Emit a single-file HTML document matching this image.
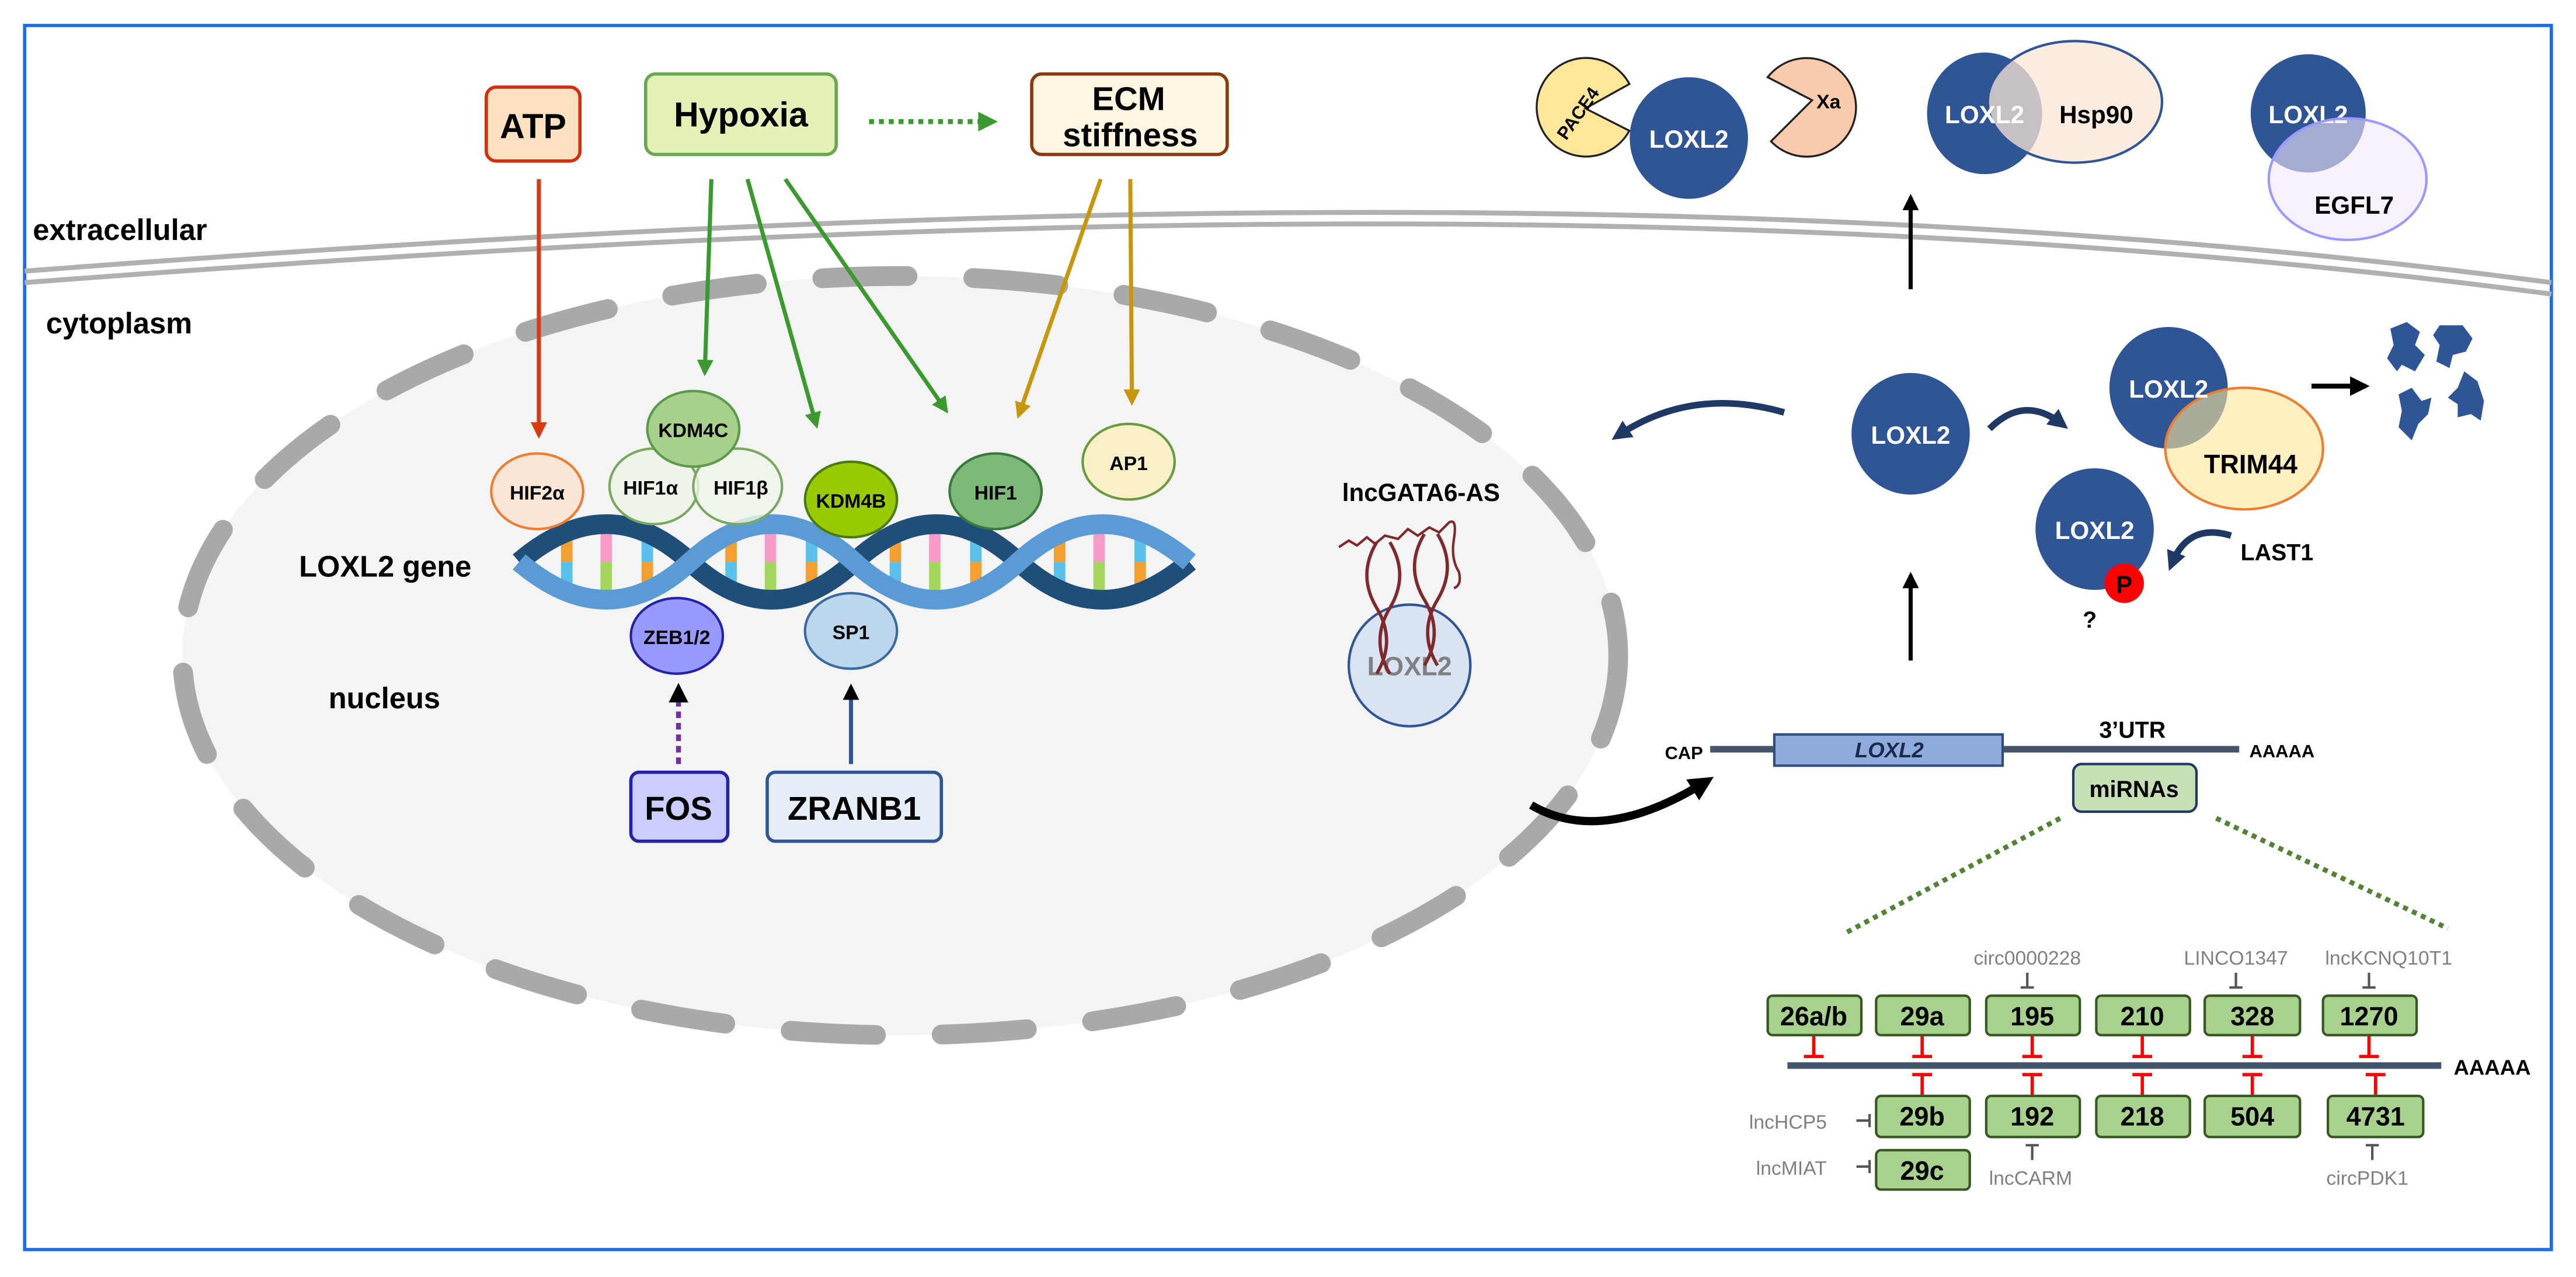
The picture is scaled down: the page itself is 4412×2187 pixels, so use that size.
<!DOCTYPE html>
<html><head><meta charset="utf-8"><style>
html,body{margin:0;padding:0;background:#fff}
svg{display:block}
text{font-family:"Liberation Sans",sans-serif}
</style></head><body>
<svg width="4412" height="2187" viewBox="0 0 1568 777.2" preserveAspectRatio="none" xmlns="http://www.w3.org/2000/svg">
<defs>
<marker id="ar" viewBox="0 0 10 10" refX="8" refY="5" markerWidth="4" markerHeight="4" orient="auto"><path d="M0,0L10,5L0,10z" fill="#d93a10"/></marker>
<marker id="ag" viewBox="0 0 10 10" refX="8" refY="5" markerWidth="4" markerHeight="4" orient="auto"><path d="M0,0L10,5L0,10z" fill="#3a9a30"/></marker>
<marker id="ay" viewBox="0 0 10 10" refX="8" refY="5" markerWidth="4" markerHeight="4" orient="auto"><path d="M0,0L10,5L0,10z" fill="#c8960a"/></marker>
<marker id="ak" viewBox="0 0 10 10" refX="8" refY="5" markerWidth="4" markerHeight="4" orient="auto"><path d="M0,0L10,5L0,10z" fill="#000"/></marker>
<marker id="ab" viewBox="0 0 10 10" refX="6" refY="5" markerWidth="3" markerHeight="3" orient="auto"><path d="M0,0L10,5L0,10z" fill="#1f3864"/></marker>
<marker id="ab2" viewBox="0 0 10 10" refX="6" refY="5" markerWidth="3" markerHeight="3" orient="auto"><path d="M0,0L10,5L0,10z" fill="#000"/></marker>
</defs>
<rect x="15" y="15.5" width="1538" height="745" fill="#fff" stroke="#1a6cf0" stroke-width="2"/>
<path d="M15,165 C500,128 1050,105 1553,172" fill="none" stroke="#b0b0b0" stroke-width="3"/>
<path d="M15,172 C500,135 1050,112 1553,179" fill="none" stroke="#b0b0b0" stroke-width="3"/>
<ellipse cx="548" cy="399" rx="437" ry="231" fill="#f4f4f4" stroke="#a9a9a9" stroke-width="12" stroke-dasharray="52 40" stroke-linecap="round"/>
<text x="20" y="146" font-size="18" font-weight="bold">extracellular</text>
<text x="28" y="203" font-size="18" font-weight="bold">cytoplasm</text>
<text x="182" y="351" font-size="18" font-weight="bold">LOXL2 gene</text>
<text x="200" y="431" font-size="18" font-weight="bold">nucleus</text>
<rect x="296" y="53" width="57" height="45" rx="6" fill="#fde0c0" stroke="#d03010" stroke-width="2"/>
<text x="324.5" y="84" font-size="21" font-weight="bold" text-anchor="middle">ATP</text>
<rect x="393" y="45" width="116" height="49" rx="6" fill="#e3f0b8" stroke="#6aa84f" stroke-width="2"/>
<text x="451" y="77" font-size="21" font-weight="bold" text-anchor="middle">Hypoxia</text>
<line x1="529" y1="74" x2="605" y2="74" stroke="#3a9a30" stroke-width="3" stroke-dasharray="3 3" marker-end="url(#ag)"/>
<rect x="628" y="45" width="119" height="49" rx="6" fill="#fff5e0" stroke="#8b3a10" stroke-width="2"/>
<text x="687" y="67" font-size="20" font-weight="bold" text-anchor="middle">ECM</text>
<text x="688" y="89" font-size="20" font-weight="bold" text-anchor="middle">stiffness</text>
<line x1="328" y1="109" x2="328" y2="265" stroke="#d93a10" stroke-width="2.5" marker-end="url(#ar)"/>
<line x1="433" y1="109" x2="429" y2="227" stroke="#3a9a30" stroke-width="2.5" marker-end="url(#ag)"/>
<line x1="455" y1="109" x2="497" y2="259" stroke="#3a9a30" stroke-width="2.5" marker-end="url(#ag)"/>
<line x1="478" y1="109" x2="576" y2="250" stroke="#3a9a30" stroke-width="2.5" marker-end="url(#ag)"/>
<line x1="670" y1="109" x2="620" y2="253" stroke="#c8960a" stroke-width="2.5" marker-end="url(#ay)"/>
<line x1="688" y1="109" x2="689" y2="245" stroke="#c8960a" stroke-width="2.5" marker-end="url(#ay)"/>
<g stroke-width="7">
<g id="rg">
<line x1="345" y1="322" x2="345" y2="342" stroke="#f4a030"/><line x1="345" y1="342" x2="345" y2="362" stroke="#5bc0eb"/>
<line x1="369" y1="316" x2="369" y2="342" stroke="#f79ac8"/><line x1="369" y1="342" x2="369" y2="368" stroke="#a4d65e"/>
<line x1="394" y1="322" x2="394" y2="342" stroke="#5bc0eb"/><line x1="394" y1="342" x2="394" y2="362" stroke="#f4a030"/>
</g>
<use href="#rg" x="100"/><use href="#rg" x="200"/><use href="#rg" x="300"/>
</g>
<path d="M316,342 Q370,296 420,342 Q470,388 520,342 Q570,296 620,342 Q670,388 724,342" fill="none" stroke="#1f4e79" stroke-width="12"/>
<path d="M316,342 Q370,388 420,342 Q470,296 520,342 Q570,388 620,342 Q670,296 724,342" fill="none" stroke="#5b9bd5" stroke-width="12"/>
<g font-weight="bold" text-anchor="middle" font-size="12">
<ellipse cx="327" cy="299" rx="28" ry="23" fill="#fbe5d6" stroke="#ed7d31" stroke-width="1.5"/><text x="327" y="304">HIF2α</text>
<ellipse cx="398" cy="296" rx="27" ry="23" fill="#eef5e8" stroke="#7aa860" stroke-width="1.5"/><text x="396" y="301">HIF1α</text>
<ellipse cx="449" cy="296" rx="27" ry="23" fill="#eef5e8" fill-opacity="0.8" stroke="#7aa860" stroke-width="1.5"/><text x="451" y="301">HIF1β</text>
<ellipse cx="422" cy="261" rx="28" ry="23" fill="#a8d08d" stroke="#5a9a48" stroke-width="1.5"/><text x="422" y="266">KDM4C</text>
<ellipse cx="518" cy="304" rx="28" ry="23" fill="#99cc00" stroke="#4a7a10" stroke-width="1.5"/><text x="518" y="309">KDM4B</text>
<ellipse cx="606" cy="299" rx="28" ry="23" fill="#7dba7a" stroke="#3a7a3a" stroke-width="1.5"/><text x="606" y="304">HIF1</text>
<ellipse cx="687" cy="281" rx="28" ry="23" fill="#faf0c8" stroke="#6a9a40" stroke-width="1.5"/><text x="687" y="286">AP1</text>
<ellipse cx="412" cy="387" rx="28" ry="23" fill="#9999ff" stroke="#2222aa" stroke-width="1.5"/><text x="412" y="392">ZEB1/2</text>
<ellipse cx="518" cy="384" rx="28" ry="23" fill="#bcd6ee" stroke="#3a6aa0" stroke-width="1.5"/><text x="518" y="389">SP1</text>
</g>
<line x1="413" y1="465" x2="413" y2="418" stroke="#7030a0" stroke-width="3" stroke-dasharray="4 3" marker-end="url(#ak)"/>
<line x1="518" y1="465" x2="518" y2="418" stroke="#2f5597" stroke-width="2.5" marker-end="url(#ak)"/>
<rect x="384" y="470" width="59" height="42" rx="5" fill="#ccccff" stroke="#2222aa" stroke-width="2"/>
<text x="413" y="499" font-size="20" font-weight="bold" text-anchor="middle">FOS</text>
<rect x="467" y="470" width="106" height="42" rx="5" fill="#e6eef8" stroke="#2f5597" stroke-width="2"/>
<text x="520" y="499" font-size="20" font-weight="bold" text-anchor="middle">ZRANB1</text>
<text x="865" y="305" font-size="15" font-weight="bold" text-anchor="middle">lncGATA6-AS</text>
<ellipse cx="858" cy="405" rx="37" ry="37" fill="#dae3f3" stroke="#2f5597" stroke-width="1.5"/>
<text x="858" y="411" font-size="16" font-weight="bold" fill="#808080" text-anchor="middle">LOXL2</text>
<path d="M815,333 l6,-4 l5,3 l6,-5 l5,4 l6,-5 l8,2 l6,-6 l6,4 l7,-5 l6,3 l6,-6 q5,-3 3,10 q-2,12 3,20 q2,8 -3,10" fill="none" stroke="#7f2a2a" stroke-width="1.5"/>
<path d="M838,330 q-12,20 0,40 q12,20 0,40 M846,330 q12,20 0,40 q-12,20 0,40 M867,325 q-12,20 0,40 q12,20 0,40 M875,325 q12,20 0,40 q-12,20 0,40" fill="none" stroke="#7f2a2a" stroke-width="2"/>
<path d="M965,66 L994,56 A30,30 0 1 0 989,84 Z" fill="#ffe699" stroke="#222" stroke-width="1.2" transform="rotate(-10 965 66)"/>
<text x="962" y="72" font-size="11" font-weight="bold" text-anchor="middle" transform="rotate(-55 962 70)">PACE4</text>
<ellipse cx="1028" cy="84" rx="36" ry="37" fill="#2f5597"/>
<text x="1028" y="90" font-size="15" font-weight="bold" fill="#fff" text-anchor="middle">LOXL2</text>
<path d="M1103,61 L1076,47 A30,30 0 1 1 1078,86 Z" fill="#f8cbad" stroke="#222" stroke-width="1.2"/>
<text x="1113" y="66" font-size="12" font-weight="bold" text-anchor="middle">Xa</text>
<ellipse cx="1208" cy="69" rx="35" ry="37" fill="#2f5597"/>
<ellipse cx="1263" cy="62" rx="53" ry="37" fill="#fbe5d6" fill-opacity="0.75" stroke="#2f5597" stroke-width="1.5"/>
<text x="1208" y="75" font-size="15" font-weight="bold" fill="#fff" text-anchor="middle">LOXL2</text>
<text x="1276" y="75" font-size="15" font-weight="bold" text-anchor="middle">Hsp90</text>
<ellipse cx="1405" cy="69" rx="35" ry="36" fill="#2f5597"/>
<text x="1405" y="75" font-size="15" font-weight="bold" fill="#fff" text-anchor="middle">LOXL2</text>
<ellipse cx="1429" cy="109" rx="48" ry="37" fill="#f5e6fb" fill-opacity="0.6" stroke="#9999ff" stroke-width="1.5"/>
<text x="1433" y="130" font-size="15" font-weight="bold" text-anchor="middle">EGFL7</text>
<line x1="1163" y1="176" x2="1163" y2="120" stroke="#000" stroke-width="2.5" marker-end="url(#ak)"/>
<ellipse cx="1163" cy="264" rx="36" ry="37" fill="#2f5597"/>
<text x="1163" y="270" font-size="15" font-weight="bold" fill="#fff" text-anchor="middle">LOXL2</text>
<path d="M1086,251 Q1030,235 985,265" fill="none" stroke="#1f3864" stroke-width="4" marker-end="url(#ab)"/>
<path d="M1211,261 Q1232,240 1255,258" fill="none" stroke="#1f3864" stroke-width="4" marker-end="url(#ab)"/>
<ellipse cx="1320" cy="236" rx="36" ry="37" fill="#2f5597"/>
<ellipse cx="1366" cy="273" rx="48" ry="37" fill="#ffe699" fill-opacity="0.6" stroke="#ed7d31" stroke-width="1.5"/>
<text x="1320" y="242" font-size="15" font-weight="bold" fill="#fff" text-anchor="middle">LOXL2</text>
<text x="1370" y="288" font-size="16" font-weight="bold" text-anchor="middle">TRIM44</text>
<line x1="1407" y1="235" x2="1440" y2="235" stroke="#000" stroke-width="3" marker-end="url(#ak)"/>
<g fill="#2f5597">
<path d="M1455,200 l10,-4 l8,6 l-3,8 l6,6 l-6,10 l-8,-4 l-3,4 l-6,-8 l4,-8z"/>
<path d="M1485,198 l14,0 l6,8 l-4,8 l-8,2 l-2,8 l-8,-4 l2,-10 l-4,-6z"/>
<path d="M1460,240 l8,-4 l6,8 l6,-2 l-2,10 l-6,6 l-4,10 l-8,-8 l2,-10z"/>
<path d="M1500,226 l8,6 l4,12 l-2,12 l-6,-4 l-8,2 l0,-8 l-6,-4 l6,-6z"/>
</g>
<ellipse cx="1275" cy="322" rx="36" ry="37" fill="#2f5597"/>
<text x="1275" y="328" font-size="15" font-weight="bold" fill="#fff" text-anchor="middle">LOXL2</text>
<circle cx="1293" cy="355" r="12" fill="#ff0000"/>
<text x="1293" y="361" font-size="15" font-weight="bold" text-anchor="middle">P</text>
<text x="1272" y="382" font-size="14" font-weight="bold" text-anchor="middle">?</text>
<path d="M1358,326 Q1332,318 1322,343" fill="none" stroke="#1f3864" stroke-width="4" marker-end="url(#ab)"/>
<text x="1386" y="341" font-size="14" font-weight="bold" text-anchor="middle">LAST1</text>
<line x1="1163" y1="402" x2="1163" y2="350" stroke="#000" stroke-width="2.5" marker-end="url(#ak)"/>
<path d="M932,490 Q975,515 1038,476" fill="none" stroke="#000" stroke-width="5" marker-end="url(#ab2)"/>
<text x="1025" y="462" font-size="11" font-weight="bold" text-anchor="middle">CAP</text>
<line x1="1041" y1="456" x2="1363" y2="456" stroke="#44546a" stroke-width="4"/>
<rect x="1080" y="447" width="139" height="19" fill="#8faadc" stroke="#2f4f7a" stroke-width="1.5"/>
<text x="1150" y="461" font-size="13" font-weight="bold" font-style="italic" fill="#1a2a4a" text-anchor="middle">LOXL2</text>
<text x="1298" y="449" font-size="14" font-weight="bold" text-anchor="middle">3’UTR</text>
<text x="1389" y="461" font-size="11" font-weight="bold" text-anchor="middle">AAAAA</text>
<rect x="1262" y="465" width="75" height="29" rx="5" fill="#c5e0b4" stroke="#1f3864" stroke-width="1.5"/>
<text x="1299" y="485" font-size="14" font-weight="bold" text-anchor="middle">miRNAs</text>
<line x1="1254" y1="498" x2="1123" y2="568" stroke="#548235" stroke-width="3" stroke-dasharray="3 3"/>
<line x1="1349" y1="498" x2="1490" y2="565" stroke="#548235" stroke-width="3" stroke-dasharray="3 3"/>
<line x1="1088" y1="648.5" x2="1486" y2="648.5" stroke="#44546a" stroke-width="4"/>
<text x="1517" y="654" font-size="13" font-weight="bold" text-anchor="middle">AAAAA</text>
<g stroke="#ff0000" stroke-width="2">
<path d="M1104,630v13m-6,0h12"/><path d="M1170,630v13m-6,0h12"/><path d="M1237,630v13m-6,0h12"/><path d="M1304,630v13m-6,0h12"/><path d="M1371,630v13m-6,0h12"/><path d="M1442,630v13m-6,0h12"/>
<path d="M1170,667v-13m-6,0h12"/><path d="M1237,667v-13m-6,0h12"/><path d="M1304,667v-13m-6,0h12"/><path d="M1371,667v-13m-6,0h12"/><path d="M1446,667v-13m-6,0h12"/>
</g>
<g fill="#a9d18e" stroke="#385723" stroke-width="1.5">
<rect x="1076" y="606" width="57" height="24" rx="3"/><rect x="1142" y="606" width="57" height="24" rx="3"/><rect x="1209" y="606" width="57" height="24" rx="3"/><rect x="1276" y="606" width="57" height="24" rx="3"/><rect x="1342" y="606" width="58" height="24" rx="3"/><rect x="1414" y="606" width="57" height="24" rx="3"/>
<rect x="1142" y="667" width="57" height="25" rx="3"/><rect x="1209" y="667" width="57" height="25" rx="3"/><rect x="1276" y="667" width="57" height="25" rx="3"/><rect x="1342" y="667" width="58" height="25" rx="3"/><rect x="1417" y="667" width="58" height="25" rx="3"/>
<rect x="1142" y="700" width="57" height="24" rx="3"/>
</g>
<g font-size="16" font-weight="bold" text-anchor="middle">
<text x="1104" y="624">26a/b</text><text x="1170" y="624">29a</text><text x="1237" y="624">195</text><text x="1304" y="624">210</text><text x="1371" y="624">328</text><text x="1442" y="624">1270</text>
<text x="1170" y="685">29b</text><text x="1237" y="685">192</text><text x="1304" y="685">218</text><text x="1371" y="685">504</text><text x="1446" y="685">4731</text>
<text x="1170" y="718">29c</text>
</g>
<g font-size="12" fill="#808080" text-anchor="middle">
<text x="1234" y="587">circ0000228</text><text x="1361" y="587">LINCO1347</text><text x="1454" y="587">lncKCNQ10T1</text>
<text x="1236" y="721">lncCARM</text><text x="1441" y="721">circPDK1</text>
<text x="1112" y="687" text-anchor="end">lncHCP5</text><text x="1112" y="715" text-anchor="end">lncMIAT</text>
</g>
<g stroke="#555" stroke-width="1.5">
<path d="M1234,592v9m-4,0h8"/><path d="M1361,592v9m-4,0h8"/><path d="M1442,592v9m-4,0h8"/>
<path d="M1237,706v-9m-4,0h8"/><path d="M1444,706v-9m-4,0h8"/>
<path d="M1130,682h8m0,-4v8"/><path d="M1130,710h8m0,-4v8"/>
</g>
</svg>
</body></html>
